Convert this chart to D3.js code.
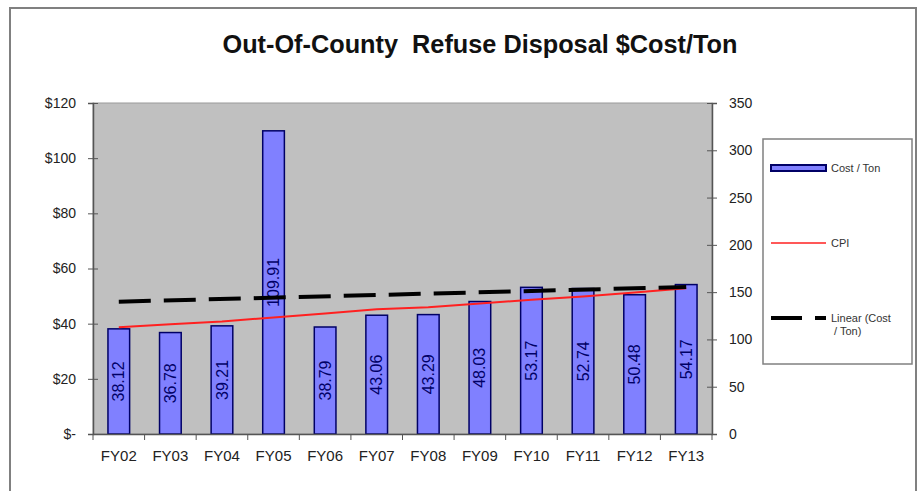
<!DOCTYPE html>
<html>
<head>
<meta charset="utf-8">
<script src="https://cdn.jsdelivr.net/npm/d3@7"></script>
<style>
  html, body { margin: 0; padding: 0; background: #fff; }
  svg { display: block; }
  text { font-family: "Liberation Sans Narrow", "Arial Narrow", "Liberation Sans", Arial, sans-serif; }
</style>
</head>
<body>
<svg id="chart" width="924" height="491"></svg>
<script>
// ---- data ----
const categories = ["FY02","FY03","FY04","FY05","FY06","FY07","FY08","FY09","FY10","FY11","FY12","FY13"];
const costPerTon = [38.12, 36.78, 39.21, 109.91, 38.79, 43.06, 43.29, 48.03, 53.17, 52.74, 50.48, 54.17];
const cpi = [112.8, 116, 119, 123.3, 127.5, 131.8, 134, 138, 142, 145.5, 149.7, 154];
const leftTicks = [0, 20, 40, 60, 80, 100, 120];
const leftTickLabels = ["$-", "$20", "$40", "$60", "$80", "$100", "$120"];
const rightTicks = [0, 50, 100, 150, 200, 250, 300, 350];
const titleText = "Out-Of-County  Refuse Disposal $Cost/Ton";
const legendLabels = ["Cost / Ton", "CPI", "Linear (Cost", "/ Ton)"];

// ---- layout ----
const svg = d3.select("#chart");
const plot = { x0: 93, x1: 712, y0: 103, y1: 434 };

const x = d3.scaleBand().domain(categories).range([plot.x0, plot.x1]).paddingInner(0.58).paddingOuter(0.29);
const yL = d3.scaleLinear().domain([0, 120]).range([plot.y1, plot.y0]);
const yR = d3.scaleLinear().domain([0, 350]).range([plot.y1, plot.y0]);

// outer frame
svg.append("rect").attr("x", 10).attr("y", 8).attr("width", 906).attr("height", 520)
  .attr("fill", "#fff").attr("stroke", "#808080").attr("stroke-width", 2);

// title
svg.append("text").attr("x", 480).attr("y", 53).attr("text-anchor", "middle")
  .attr("font-size", 26).attr("font-weight", "bold").attr("fill", "#111")
  .attr("textLength", 515).attr("lengthAdjust", "spacingAndGlyphs")
  .style("white-space", "pre")
  .text(titleText);

// plot area
svg.append("rect").attr("x", plot.x0).attr("y", plot.y0)
  .attr("width", plot.x1 - plot.x0).attr("height", plot.y1 - plot.y0)
  .attr("fill", "#c0c0c0").attr("stroke", "#9a9a9a").attr("stroke-width", 1);

// bars
svg.append("g").selectAll("rect").data(costPerTon).join("rect")
  .attr("x", (d, i) => x(categories[i]))
  .attr("y", d => yL(d))
  .attr("width", x.bandwidth())
  .attr("height", d => yL(0) - yL(d))
  .attr("fill", "#8080ff").attr("stroke", "#000066").attr("stroke-width", 1.5);

// bar labels
svg.append("g").selectAll("text").data(costPerTon).join("text")
  .attr("transform", (d, i) => {
    const cx = x(categories[i]) + x.bandwidth() / 2;
    const cy = (yL(d) + yL(0)) / 2;
    return `translate(${cx},${cy}) rotate(-90)`;
  })
  .attr("text-anchor", "middle").attr("dy", "0.35em")
  .attr("font-size", 16).attr("fill", "#000066")
  .style("font-family", "'Liberation Sans', Arial, sans-serif")
  .text(d => d.toFixed(2));

// CPI line (right axis)
const cx = c => x(c) + x.bandwidth() / 2;
svg.append("path").datum(cpi)
  .attr("d", d3.line().x((d, i) => cx(categories[i])).y(d => yR(d)))
  .attr("fill", "none").attr("stroke", "#ff2020").attr("stroke-width", 2);

// linear trendline of cost/ton (least squares)
const n = costPerTon.length;
const idx = d3.range(1, n + 1);
const mx = d3.mean(idx), my = d3.mean(costPerTon);
const slope = d3.sum(idx, (v, i) => (v - mx) * (costPerTon[i] - my)) / d3.sum(idx, v => (v - mx) ** 2);
const intercept = my - slope * mx;
const trend = [1, n].map(v => ({ cat: categories[v - 1], val: intercept + slope * v }));
svg.append("path").datum(trend)
  .attr("d", d3.line().x(d => cx(d.cat)).y(d => yL(d.val)))
  .attr("fill", "none").attr("stroke", "#000").attr("stroke-width", 4)
  .attr("stroke-dasharray", "32,13");

// left axis
const gL = svg.append("g").attr("transform", `translate(${plot.x0},0)`)
  .call(d3.axisLeft(yL).tickValues(leftTicks).tickSize(5).tickPadding(12)
    .tickFormat((d, i) => leftTickLabels[i]));
gL.select(".domain").attr("stroke", "#555").attr("stroke-width", 1.5);
gL.selectAll(".tick line").attr("stroke", "#555").attr("x2", 5).attr("x1", -5);
gL.selectAll(".tick text").attr("font-size", 14).attr("fill", "#222")
  .style("font-family", "'Liberation Sans Narrow', 'Arial Narrow', sans-serif");

// right axis
const gR = svg.append("g").attr("transform", `translate(${plot.x1},0)`)
  .call(d3.axisRight(yR).tickValues(rightTicks).tickSize(5).tickPadding(12));
gR.select(".domain").attr("stroke", "#555").attr("stroke-width", 1.5);
gR.selectAll(".tick line").attr("stroke", "#555").attr("x1", -5).attr("x2", 5);
gR.selectAll(".tick text").attr("font-size", 14).attr("fill", "#222")
  .style("font-family", "'Liberation Sans Narrow', 'Arial Narrow', sans-serif");

// bottom axis
const gB = svg.append("g").attr("transform", `translate(0,${plot.y1})`)
  .call(d3.axisBottom(x).tickSize(0).tickPadding(16));
gB.select(".domain").attr("stroke", "#555").attr("stroke-width", 1.5);
gB.selectAll(".tick text").attr("font-size", 15).attr("fill", "#222")
  .style("font-family", "'Liberation Sans Narrow', 'Arial Narrow', sans-serif");
// category boundary ticks
const bounds = categories.map(c => x(c) - x.step() * x.paddingInner() / 2).concat([plot.x1]);
bounds[0] = plot.x0;
gB.append("g").selectAll("line").data(bounds).join("line")
  .attr("x1", d => d).attr("x2", d => d).attr("y1", 0).attr("y2", 6)
  .attr("stroke", "#555").attr("stroke-width", 1);

// legend
const lg = svg.append("g");
lg.append("rect").attr("x", 763).attr("y", 139).attr("width", 149).attr("height", 225)
  .attr("fill", "#fff").attr("stroke", "#808080").attr("stroke-width", 1.5);
lg.append("rect").attr("x", 771).attr("y", 165).attr("width", 55).attr("height", 6)
  .attr("fill", "#8080ff").attr("stroke", "#000066").attr("stroke-width", 2);
lg.append("line").attr("x1", 771).attr("x2", 826).attr("y1", 243).attr("y2", 243)
  .attr("stroke", "#ff2020").attr("stroke-width", 1.5);
lg.append("line").attr("x1", 771).attr("x2", 826).attr("y1", 318).attr("y2", 318)
  .attr("stroke", "#000").attr("stroke-width", 4).attr("stroke-dasharray", "31,13");
const ltext = [[831, 172, legendLabels[0]], [831, 247, legendLabels[1]], [831, 322, legendLabels[2]], [834, 335, legendLabels[3]]];
lg.selectAll("text.lab").data(ltext).join("text")
  .attr("x", d => d[0]).attr("y", d => d[1]).attr("font-size", 11).attr("fill", "#333")
  .text(d => d[2]);
</script>
</body>
</html>
